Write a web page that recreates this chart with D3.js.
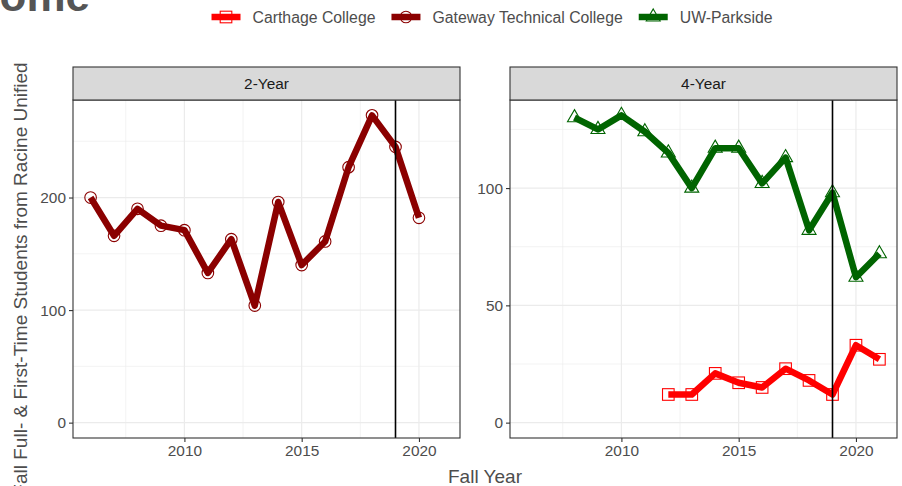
<!DOCTYPE html>
<html>
<head>
<meta charset="utf-8">
<script src="https://cdn.jsdelivr.net/npm/d3@7"></script>
<style>
  body { margin: 0; background: #fff; }
  #chart { width: 902px; height: 486px; }
  text { font-family: "Liberation Sans", Arial, sans-serif; }
</style>
</head>
<body>
<div id="chart" class="chart"></div>
<script>
// Data
const gatewayYears = [2006, 2007, 2008, 2009, 2010, 2011, 2012, 2013, 2014, 2015, 2016, 2017, 2018, 2019, 2020];
const gatewayValues = [200, 166, 190, 175, 171, 133, 163, 104, 196, 140, 161, 227, 273, 245, 182];

const parksideYears = [2008, 2009, 2010, 2011, 2012, 2013, 2014, 2015, 2016, 2017, 2018, 2019, 2020, 2021];
const parksideValues = [130, 125, 131, 124, 115, 100, 117, 117, 102, 113, 82, 98, 62, 72];

const carthageYears = [2012, 2013, 2014, 2015, 2016, 2017, 2018, 2019, 2020, 2021];
const carthageValues = [12, 12, 21, 17, 15, 23, 18, 12, 33, 27];

const panelNames = ['2-Year', '4-Year'];
const xTicks = [2010, 2015, 2020];
const xMinor = [2007.5, 2012.5, 2017.5];
const leftTicks = [0, 100, 200];
const leftMinor = [50, 150, 250];
const rightTicks = [0, 50, 100];
const rightMinor = [25, 75, 125];
const cutoffYear = 2019;

const legendNames = ['Carthage College', 'Gateway Technical College', 'UW-Parkside'];
const yTitle = 'Fall Full- & First-Time Students from Racine Unified';
const xTitle = 'Fall Year';
const plotTitle = 'Outcome';

let zip = (xs, ys) => xs.map((x, i) => ({ year: x, value: ys[i] }));

let series = {
  carthage: { name: legendNames[0], color: '#ff0000', shape: 'square', data: zip(carthageYears, carthageValues) },
  gateway: { name: legendNames[1], color: '#8b0000', shape: 'circle', data: zip(gatewayYears, gatewayValues) },
  parkside: { name: legendNames[2], color: '#006400', shape: 'triangle', data: zip(parksideYears, parksideValues) }
};

//Set up canvas
let width = 902,
    height = 486,
    stripTop = 67,
    stripBottom = 100,
    panelBottom = 438;

let svg = d3.select('.chart')
  .append('svg')
  .attr('width', width)
  .attr('height', height);

// shared x scale with ggplot style 5% expansion
let allYears = gatewayYears.concat(parksideYears, carthageYears);
let xMin = d3.min(allYears), xMax = d3.max(allYears),
    xPad = (xMax - xMin) * 0.05;

function expandY(maxV) {
  return [0 - maxV * 0.05, maxV * 1.05];
}

let panels = [
  { name: panelNames[0], x0: 73, x1: 460, lines: [series.gateway], ticks: leftTicks, minor: leftMinor },
  { name: panelNames[1], x0: 510, x1: 897, lines: [series.carthage, series.parkside], ticks: rightTicks, minor: rightMinor }
];

function drawMarker(g, shape, color, cx, cy) {
  if (shape === 'circle') {
    g.append('circle')
      .attr('cx', cx).attr('cy', cy).attr('r', 5.8)
      .attr('fill', 'none').attr('stroke', color).attr('stroke-width', 1.1);
  } else if (shape === 'square') {
    g.append('rect')
      .attr('x', cx - 5.8).attr('y', cy - 5.8)
      .attr('width', 11.6).attr('height', 11.6)
      .attr('fill', 'none').attr('stroke', color).attr('stroke-width', 1.1);
  } else {
    let xc = 7, r = xc * 2 / Math.sqrt(3), yc = xc / Math.sqrt(3);
    g.append('path')
      .attr('d', `M${cx},${cy - r}L${cx + xc},${cy + yc}L${cx - xc},${cy + yc}Z`)
      .attr('fill', 'none').attr('stroke', color).attr('stroke-width', 1.1);
  }
}

panels.forEach(p => {
  let x = d3.scaleLinear()
    .domain([xMin - xPad, xMax + xPad])
    .range([p.x0, p.x1]);

  let maxV = d3.max(p.lines, s => d3.max(s.data, d => d.value));
  let y = d3.scaleLinear()
    .domain(expandY(maxV))
    .range([panelBottom, stripBottom]);

  let g = svg.append('g');

  //Grid lines
  g.selectAll('.vminor').data(xMinor).enter().append('line')
    .attr('x1', d => x(d)).attr('x2', d => x(d))
    .attr('y1', stripBottom).attr('y2', panelBottom)
    .attr('stroke', '#ebebeb').attr('stroke-width', 0.6);
  g.selectAll('.hminor').data(p.minor).enter().append('line')
    .attr('x1', p.x0).attr('x2', p.x1)
    .attr('y1', d => y(d)).attr('y2', d => y(d))
    .attr('stroke', '#ebebeb').attr('stroke-width', 0.6);
  g.selectAll('.vmajor').data(xTicks).enter().append('line')
    .attr('x1', d => x(d)).attr('x2', d => x(d))
    .attr('y1', stripBottom).attr('y2', panelBottom)
    .attr('stroke', '#ebebeb').attr('stroke-width', 1.2);
  g.selectAll('.hmajor').data(p.ticks).enter().append('line')
    .attr('x1', p.x0).attr('x2', p.x1)
    .attr('y1', d => y(d)).attr('y2', d => y(d))
    .attr('stroke', '#ebebeb').attr('stroke-width', 1.2);

  //Lines
  let line = d3.line().x(d => x(d.year)).y(d => y(d.value));
  p.lines.forEach(s => {
    g.append('path')
      .attr('d', line(s.data))
      .attr('fill', 'none')
      .attr('stroke', s.color)
      .attr('stroke-width', 6.5)
      .attr('stroke-linejoin', 'round');
  });

  //Points
  p.lines.forEach(s => {
    s.data.forEach(d => drawMarker(g, s.shape, s.color, x(d.year), y(d.value)));
  });

  //Cutoff line
  g.append('line')
    .attr('x1', x(cutoffYear)).attr('x2', x(cutoffYear))
    .attr('y1', stripBottom).attr('y2', panelBottom)
    .attr('stroke', '#000').attr('stroke-width', 1.6);

  //Panel border and strip
  g.append('rect')
    .attr('x', p.x0).attr('y', stripBottom)
    .attr('width', p.x1 - p.x0).attr('height', panelBottom - stripBottom)
    .attr('fill', 'none').attr('stroke', '#333').attr('stroke-width', 1.1);
  g.append('rect')
    .attr('x', p.x0).attr('y', stripTop)
    .attr('width', p.x1 - p.x0).attr('height', stripBottom - stripTop)
    .attr('fill', '#d9d9d9').attr('stroke', '#333').attr('stroke-width', 1.1);
  g.append('text')
    .attr('x', (p.x0 + p.x1) / 2).attr('y', (stripTop + stripBottom) / 2)
    .attr('text-anchor', 'middle').attr('dominant-baseline', 'central')
    .attr('font-size', 15.4).attr('fill', '#1a1a1a')
    .text(p.name);

  //Axes
  let xAxis = d3.axisBottom(x).tickValues(xTicks).tickFormat(d3.format('d')).tickSize(4).tickPadding(3);
  let ax = g.append('g')
    .attr('transform', `translate(0, ${panelBottom})`)
    .call(xAxis);
  let yAxis = d3.axisLeft(y).tickValues(p.ticks).tickSize(4).tickPadding(3);
  let ay = g.append('g')
    .attr('transform', `translate(${p.x0}, 0)`)
    .call(yAxis);
  [ax, ay].forEach(a => {
    a.select('.domain').remove();
    a.selectAll('line').attr('stroke', '#333').attr('stroke-width', 1.1);
    a.selectAll('text')
      .attr('font-size', 15.4)
      .attr('fill', '#4d4d4d')
      .attr('font-family', '"Liberation Sans", Arial, sans-serif');
  });
});

//Axis titles
svg.append('text')
  .attr('x', (73 + 897) / 2).attr('y', 483)
  .attr('text-anchor', 'middle')
  .attr('font-size', 19).attr('fill', '#4d4d4d')
  .text(xTitle);

svg.append('text')
  .attr('transform', 'translate(27, 279) rotate(-90)')
  .attr('text-anchor', 'middle')
  .attr('font-size', 19).attr('fill', '#4d4d4d')
  .text(yTitle);

//Title (cut off at the top)
svg.append('text')
  .attr('x', 90).attr('y', 11)
  .attr('text-anchor', 'end')
  .attr('font-size', 44).attr('font-weight', 'bold').attr('fill', '#555')
  .text(plotTitle);

//Legend
let legend = svg.append('g');
let legendY = 17, keyW = 29, cx = 0;
[series.carthage, series.gateway, series.parkside].forEach((s, i) => {
  let item = legend.append('g').attr('transform', `translate(${cx}, 0)`);
  item.append('line')
    .attr('x1', 0).attr('x2', keyW)
    .attr('y1', legendY).attr('y2', legendY)
    .attr('stroke', s.color).attr('stroke-width', 6.5);
  drawMarker(item, s.shape, s.color, keyW / 2, legendY);
  let t = item.append('text')
    .attr('x', keyW + 12).attr('y', legendY)
    .attr('dominant-baseline', 'central')
    .attr('font-size', 15.8).attr('fill', '#4d4d4d')
    .text(s.name);
  cx += keyW + 12 + t.node().getComputedTextLength() + 16;
});
let legendW = cx - 16;
legend.attr('transform', `translate(${492 - legendW / 2}, 0)`);
</script>
</body>
</html>
